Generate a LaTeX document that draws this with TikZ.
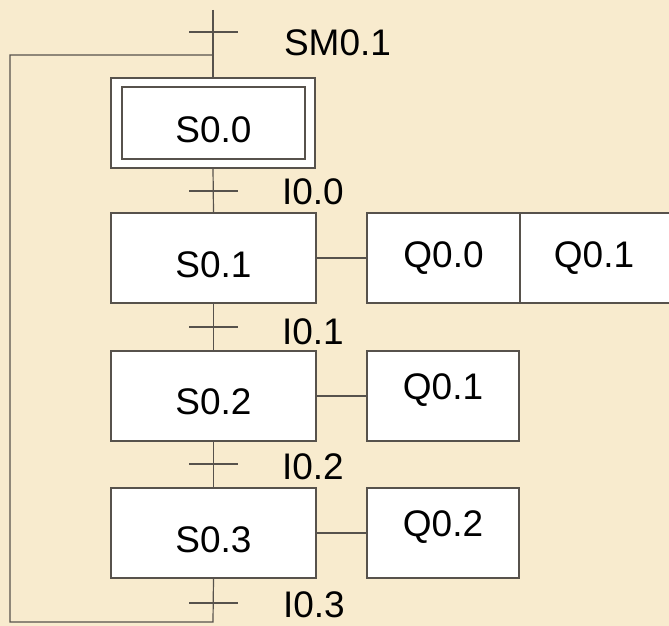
\documentclass[tikz,border=0pt]{standalone}
\usepackage{fontspec}
\setmainfont{Liberation Sans}
\definecolor{bgc}{HTML}{F8EBCE}
\definecolor{lnc}{HTML}{57524C}
\begin{document}
\begin{tikzpicture}[x=1pt,y=-1pt,
  every node/.style={inner sep=0pt, outer sep=0pt},
  ln/.style={draw=lnc, line width=1.2pt},
  box/.style={ln, fill=white, rectangle},
  lbl/.style={font=\fontsize{37}{40}\selectfont, text=black},
  tick/.style={ln}]
\fill[bgc] (0,0) rectangle (669,626);
\useasboundingbox (0,0) rectangle (669,626);
\clip (0,0) rectangle (669,626);

% steps
\node[box, minimum width=204pt, minimum height=90pt] (s0o) at (213,123) {};
\node[box, minimum width=183pt, minimum height=72pt, label={[lbl,yshift=-7pt]center:S0.0}] (s0) at (213.5,123) {};
\node[box, minimum width=205pt, minimum height=90pt, label={[lbl,yshift=-7pt]center:S0.1}] (s1) at (213.5,258) {};
\node[box, minimum width=205pt, minimum height=90pt, label={[lbl,yshift=-6pt]center:S0.2}] (s2) at (213.5,396) {};
\node[box, minimum width=205pt, minimum height=90pt, label={[lbl,yshift=-7pt]center:S0.3}] (s3) at (213.5,533) {};

% actions
\node[box, minimum width=153pt, minimum height=90pt, label={[lbl]center:Q0.0}] (q10) at (443.5,258) {};
\node[box, minimum width=170pt, minimum height=90pt, label={[lbl,xshift=-11pt]center:Q0.1}] (q11) at (605,258) {};
\node[box, minimum width=152pt, minimum height=90pt, label={[lbl,yshift=6pt]center:Q0.1}] (q2) at (443,396) {};
\node[box, minimum width=152pt, minimum height=90pt, label={[lbl,yshift=6pt]center:Q0.2}] (q3) at (443,533) {};

\draw[ln] (s1.east) -- (q10.west);
\draw[ln] (s2.east) -- (q2.west);
\draw[ln] (s3.east) -- (q3.west);

% main line
\coordinate (top) at (213,10);
\coordinate (fb) at (213,55);
\coordinate (bot) at (213,622);
\coordinate (lbot) at (10,622);
\coordinate (ltop) at (10,55);
\draw[ln] (top) -- (s0o.north);
\draw[ln] (s0o.south) -- (s1.north);
\draw[ln] (s1.south) -- (s2.north);
\draw[ln] (s2.south) -- (s3.north);
\draw[ln] (s3.south) -- (bot) -- (lbot) -- (ltop) -- (fb);

% transitions
\coordinate (t0) at (213,32);
\coordinate (t1) at (213,191);
\coordinate (t2) at (213,327);
\coordinate (t3) at (213,464);
\coordinate (t4) at (213,603);
\foreach \t in {t0,t1,t2,t3,t4}
  \draw[tick] ([xshift=-24pt]\t) -- ([xshift=25pt]\t);

\node[lbl, anchor=west] (l0) at (284,43) {SM0.1};
\node[lbl, anchor=west] (l1) at (282,192) {I0.0};
\node[lbl, anchor=west] (l2) at (282,332) {I0.1};
\node[lbl, anchor=west] (l3) at (282,467) {I0.2};
\node[lbl, anchor=west] (l4) at (283,605) {I0.3};
\end{tikzpicture}
\end{document}
